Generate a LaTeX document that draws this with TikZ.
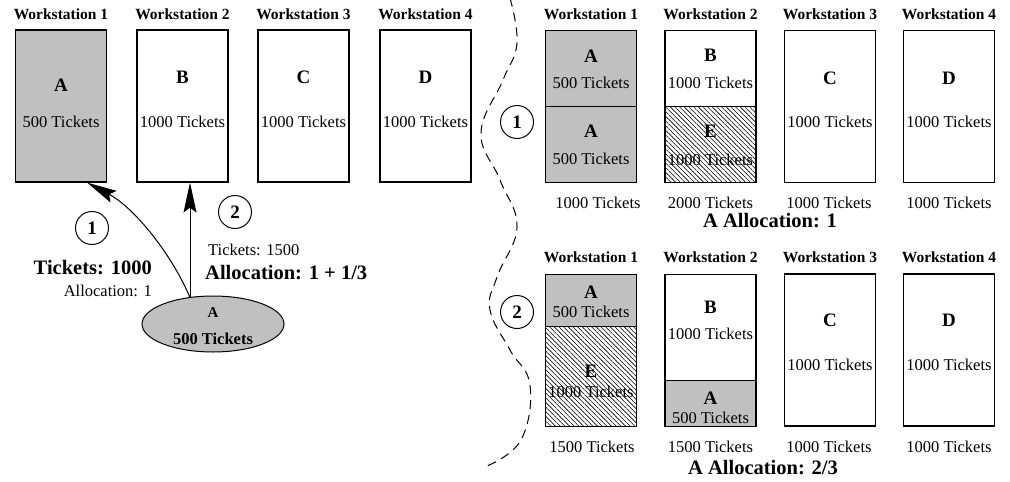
\documentclass[tikz,border=0pt]{standalone}
\usepackage{fontspec}
\setmainfont{Liberation Serif}
\usetikzlibrary{arrows.meta,patterns.meta,shapes.geometric}
\definecolor{boxgray}{HTML}{C0C0C0}
\tikzset{
  wstitle/.style={font=\fontsize{15.5}{16}\selectfont\bfseries, inner sep=0pt},
  tk/.style={font=\fontsize{16.5}{17}\selectfont, inner sep=0pt},
  letter/.style={font=\fontsize{19}{20}\selectfont\bfseries, inner sep=0pt},
  big/.style={font=\fontsize{20.5}{21}\selectfont\bfseries, inner sep=0pt},
  wsbox/.style={draw, line width=1.3pt, minimum width=91pt, inner sep=0pt},
  grayfill/.style={fill=boxgray},
  hatch/.style={pattern={Lines[angle=-45,distance=3.3pt,line width=0.6pt]}},
  numcirc/.style={circle, draw, line width=1pt, minimum size=33pt, inner sep=0pt,
    font=\fontsize{19}{20}\selectfont\bfseries},
  conn/.style={line width=1pt, -{Stealth[length=30pt,width=13pt,inset=5pt]}},
}
\begin{document}
\begin{tikzpicture}[x=1pt,y=-1pt]
\useasboundingbox (0,0) rectangle (1010,482);

% ---------- left group ----------
\foreach \n/\x in {1/61,2/182.5,3/303.5,4/425.5}
  \node[wstitle] (lt\n) at (\x,14) {Workstation \n};
\node[wsbox, grayfill, minimum height=152pt] (L1) at (61,106) {};
\node[wsbox, minimum height=152pt] (L2) at (182.5,106) {};
\node[wsbox, minimum height=152pt] (L3) at (303.5,106) {};
\node[wsbox, minimum height=152pt] (L4) at (425.5,106) {};
\node[letter] (L1a) at (61,85) {A};
\node[tk] (L1b) at (61,122) {500 Tickets};
\node[letter] (L2a) at (182.5,77) {B};
\node[tk] (L2b) at (182.5,122) {1000 Tickets};
\node[letter] (L3a) at (303.5,77) {C};
\node[tk] (L3b) at (303.5,122) {1000 Tickets};
\node[letter] (L4a) at (425.5,77) {D};
\node[tk] (L4b) at (425.5,122) {1000 Tickets};

\node[ellipse, draw, line width=1pt, fill=boxgray, minimum width=142pt, minimum height=56pt] (ell) at (213,324) {};
\node[font=\fontsize{15}{16}\selectfont\bfseries, inner sep=0pt] (ella) at (213,313) {A};
\node[font=\fontsize{16.5}{17}\selectfont\bfseries, inner sep=0pt] (ellb) at (213,339) {500 Tickets};

\coordinate (s) at (190,297.5);
\coordinate (e1) at (87,182.6);
\coordinate (e2) at (190,182.6);
\draw[conn] (s) .. controls (172,255) and (135,208) .. (e1);
\draw[conn] (s) -- (e2);

\node[numcirc] (c1) at (92,228) {1};
\node[numcirc] (c2) at (235,212) {2};

\node[big, anchor=east] (t1000) at (152,268) {Tickets: 1000};
\node[tk, anchor=east] (al1) at (152,291) {Allocation: 1};
\node[tk, anchor=west] (t1500) at (208,250) {Tickets: 1500};
\node[big, anchor=west] (al2) at (205,273) {Allocation: 1 + 1/3};

% ---------- dashed divider ----------
\draw[line width=1pt, dash pattern=on 9pt off 6pt] plot[smooth, tension=0.7] coordinates
  {(510,-2) (517,43) (503,80) (481,133) (500,180) (517,227) (497,277) (490,310) (510,350) (530,385) (521,440) (487,466)};

% ---------- right top ----------
\foreach \n/\x in {1/591,2/710.5,3/830,4/949}
  \node[wstitle] (rt\n) at (\x,14) {Workstation \n};
\node[wsbox, grayfill, minimum height=76pt] (R1t) at (591,68.5) {};
\node[wsbox, grayfill, minimum height=76pt] (R1b) at (591,144.5) {};
\node[wsbox, minimum height=76pt] (R2t) at (710.5,68.5) {};
\node[wsbox, hatch, minimum height=76pt] (R2b) at (710.5,144.5) {};
\node[wsbox, minimum height=152pt] (R3) at (830,106.5) {};
\node[wsbox, minimum height=152pt] (R4) at (949,106.5) {};
\node[letter] (R1ta) at (591,56) {A};
\node[tk] (R1tb) at (591,83) {500 Tickets};
\node[letter] (R1ba) at (591,131) {A};
\node[tk] (R1bb) at (591,159) {500 Tickets};
\node[letter] (R2ta) at (710.5,55) {B};
\node[tk] (R2tb) at (710.5,83) {1000 Tickets};
\node[letter] (R2ba) at (710.5,131) {E};
\node[tk] (R2bb) at (710.5,160) {1000 Tickets};
\node[letter] (R3a) at (830,78) {C};
\node[tk] (R3b) at (830,122) {1000 Tickets};
\node[letter] (R4a) at (949,78) {D};
\node[tk] (R4b) at (949,122) {1000 Tickets};
\node[tk] (s1) at (598,203) {1000 Tickets};
\node[tk] (s2) at (710.5,203) {2000 Tickets};
\node[tk] (s3) at (829,203) {1000 Tickets};
\node[tk] (s4) at (949,203) {1000 Tickets};
\node[big] (alA) at (770,221) {A Allocation: 1};
\node[numcirc] (rc1) at (517,122) {1};

% ---------- right bottom ----------
\foreach \n/\x in {1/591,2/710.5,3/830,4/949}
  \node[wstitle] (rb\n) at (\x,257) {Workstation \n};
\node[wsbox, grayfill, minimum height=52.5pt] (Q1t) at (591,300.5) {};
\node[wsbox, hatch, minimum height=99.5pt] (Q1b) at (591,376.5) {};
\node[wsbox, minimum height=106.5pt] (Q2t) at (710.5,327.5) {};
\node[wsbox, grayfill, minimum height=45.5pt] (Q2b) at (710.5,403.5) {};
\node[wsbox, minimum height=152pt] (Q3) at (830,350) {};
\node[wsbox, minimum height=152pt] (Q4) at (949,350) {};
\node[letter] (Q1ta) at (591,292) {A};
\node[tk] (Q1tb) at (591,312) {500 Tickets};
\node[letter] (Q1ba) at (591,371) {E};
\node[tk] (Q1bb) at (591,392) {1000 Tickets};
\node[letter] (Q2ta) at (710.5,307) {B};
\node[tk] (Q2tb) at (710.5,334) {1000 Tickets};
\node[letter] (Q2ba) at (710.5,398) {A};
\node[tk] (Q2bb) at (710.5,418) {500 Tickets};
\node[letter] (Q3a) at (830,320) {C};
\node[tk] (Q3b) at (830,365) {1000 Tickets};
\node[letter] (Q4a) at (949,320) {D};
\node[tk] (Q4b) at (949,365) {1000 Tickets};
\node[tk] (u1) at (592,447) {1500 Tickets};
\node[tk] (u2) at (710.5,447) {1500 Tickets};
\node[tk] (u3) at (829,447) {1000 Tickets};
\node[tk] (u4) at (949,447) {1000 Tickets};
\node[big] (alB) at (763,468) {A Allocation: 2/3};
\node[numcirc] (rc2) at (517,312) {2};
\end{tikzpicture}
\end{document}
